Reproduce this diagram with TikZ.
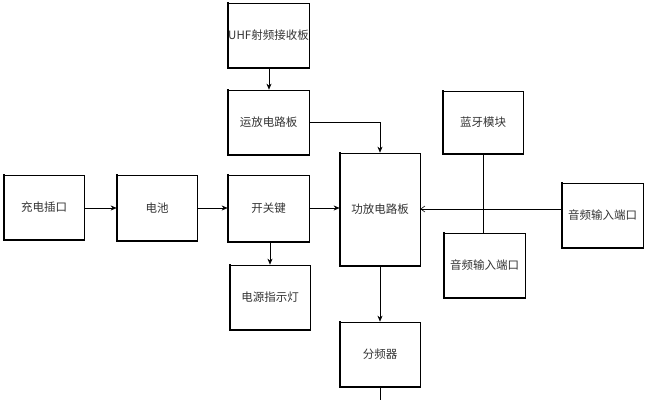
\documentclass[tikz,border=0pt]{standalone}
\usepackage{fontspec}
\setmainfont{Noto Sans CJK SC}
\usetikzlibrary{arrows.meta}
\begin{document}
\begin{tikzpicture}[x=1pt,y=-1pt,
  blk/.style={draw=black,line width=0.7pt,inner sep=0pt,minimum width=80pt,minimum height=65pt,font=\fontsize{11.5}{13}\selectfont,text=black!80},
  arr/.style={-{Stealth[length=6pt,width=5pt]},line width=0.6pt},
  varr/.style={-{Straight Barb[length=4pt,width=6pt]},line width=0.6pt},
  ln/.style={line width=0.6pt}]
\useasboundingbox (0,0) rectangle (648,400);
\node[blk,minimum width=81pt] (uhf) at (268.5,35.5) {UHF射频接收板};
\node[blk,minimum width=81pt] (yf) at (268.5,122.5) {运放电路板};
\node[blk] (cd) at (44,207.5) {充电插口};
\node[blk,minimum height=66pt] (dc) at (157,208) {电池};
\node[blk,minimum width=81pt,minimum height=67pt] (kg) at (268.5,208.5) {开关键};
\node[blk] (dy) at (270,297.5) {电源指示灯};
\node[blk,minimum height=113pt] (gf) at (380,209.5) {功放电路板};
\node[blk,minimum height=63pt] (ly) at (483,122.5) {蓝牙模块};
\node[blk,minimum width=81pt] (yp1) at (484.5,265.5) {音频输入端口};
\node[blk,minimum width=81pt] (yp2) at (602.5,215.5) {音频输入端口};
\node[blk] (fp) at (380,354.5) {分频器};
\coordinate (bot) at (380,400);
\foreach \n in {uhf,yf,cd,dc,kg,dy,gf,ly,yp1,yp2,fp}{
  \draw[line width=1.8pt,line cap=rect] (\n.north west) -- (\n.south west) -- (\n.south east);
}
\draw[arr] (uhf.south -| 269,0) -- (yf.north -| 269,0);
\draw[arr] (yf.east) -| (gf.north);
\draw[arr] (cd.east |- 0,208) -- (dc.west |- 0,208);
\draw[arr] (dc.east |- 0,208) -- (kg.west |- 0,208);
\draw[arr] (kg.east |- 0,208) -- (gf.west |- 0,208);
\draw[arr] (kg.south -| 270,0) -- (dy.north -| 270,0);
\draw[varr] (yp2.west |- 0,209) -- (gf.east |- 0,209);
\draw[ln] (ly.south) -- (ly.south |- yp1.north);
\draw[arr] (gf.south) -- (fp.north);
\draw[ln] (fp.south) -- (bot);
\end{tikzpicture}
\end{document}
